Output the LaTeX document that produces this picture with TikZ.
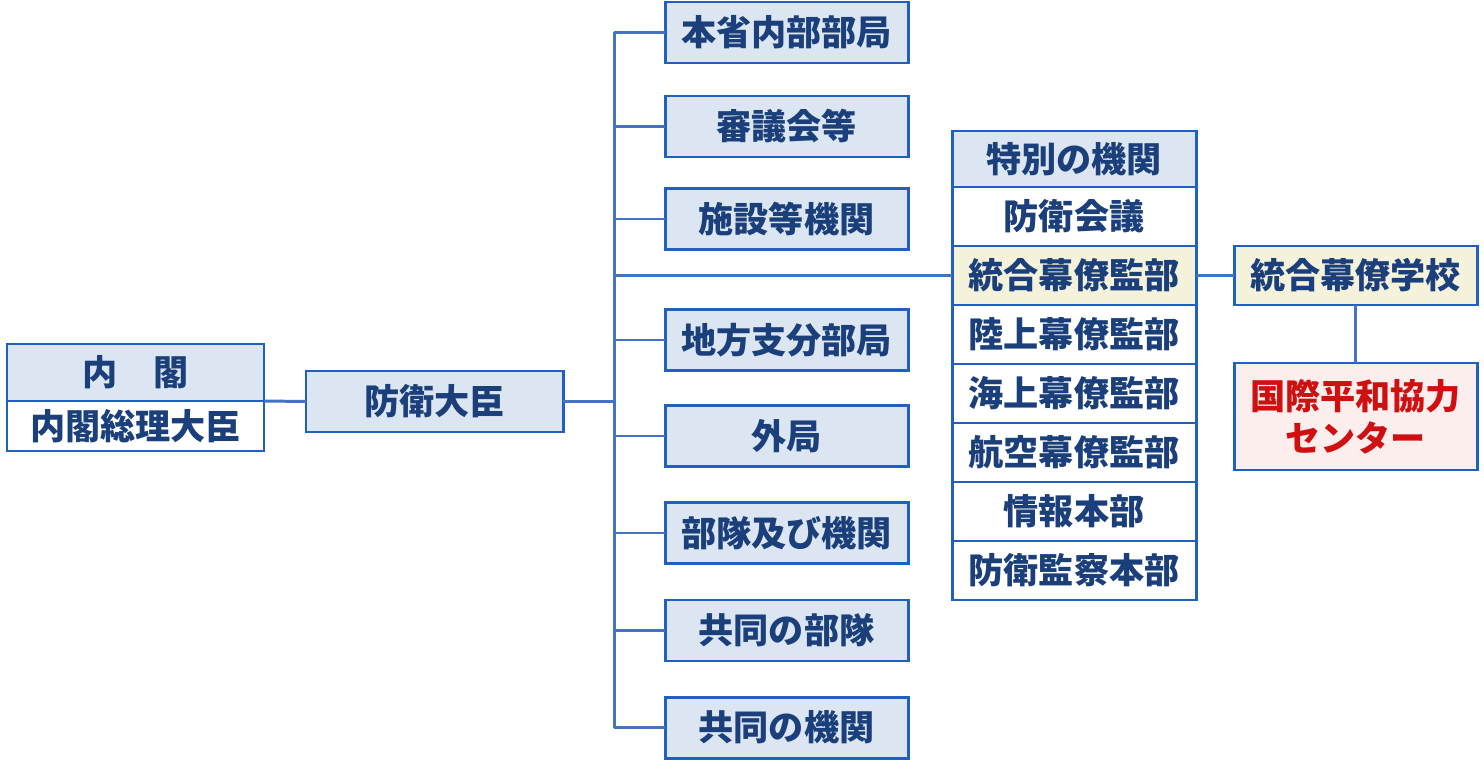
\documentclass[tikz,border=0pt]{standalone}
\usepackage{fontspec}
\setmainfont{Noto Sans CJK JP}
\usepackage{xcolor}
\usepackage{tikz}
\usetikzlibrary{positioning}
\definecolor{boxline}{RGB}{32,96,192}
\definecolor{linkline}{RGB}{68,114,196}
\definecolor{headfill}{RGB}{220,230,242}
\definecolor{creamfill}{RGB}{245,242,220}
\definecolor{pinkfill}{RGB}{253,238,238}
\definecolor{navytext}{RGB}{26,63,122}
\definecolor{redtext}{RGB}{208,16,16}
\tikzset{
  unit/.style={draw=boxline, line width=0.85pt, fill=headfill, minimum width=2.43cm, minimum height=0.61cm, align=center, inner sep=0pt, outer sep=0pt, text=navytext, font=\bfseries\fontsize{10pt}{12pt}\selectfont},
  row/.style={unit, fill=white, minimum width=2.44cm, minimum height=0.59cm},
  head/.style={row, fill=headfill, minimum height=0.56cm},
  joint/.style={row, fill=creamfill},
  pko/.style={unit, fill=pinkfill, text=redtext, minimum height=1.07cm},
  link/.style={draw=linkline, line width=0.85pt}
}
\begin{document}
\begin{tikzpicture}[x=1cm,y=1cm]
  \useasboundingbox (0,0) rectangle (14.84,-7.71);

  % cabinet and minister
  \node[unit, minimum width=2.57cm, minimum height=0.57cm] (cabinet) at (1.355,-3.725) {内\hspace{1em}閣};
  \node[unit, fill=white, minimum width=2.57cm, minimum height=0.50cm, below=0pt of cabinet] (premier) {内閣総理大臣};
  \node[unit, minimum width=2.57cm] (minister) at (4.345,-4.015) {防衛大臣};
  \coordinate (trunk) at (6.14,-4.015);

  % organisations under the minister
  \node[unit] (honsho) at (7.865,-0.325) {本省内部部局};
  \node[unit] (shingi) at (7.865,-1.265) {審議会等};
  \node[unit] (shisetsu) at (7.865,-2.19) {施設等機関};
  \node[unit] (chiho) at (7.865,-3.40) {地方支分部局};
  \node[unit] (gaikyoku) at (7.865,-4.36) {外局};
  \node[unit] (butai) at (7.865,-5.33) {部隊及び機関};
  \node[unit] (kyobutai) at (7.865,-6.305) {共同の部隊};
  \node[unit] (kyokikan) at (7.865,-7.275) {共同の機関};

  % special organs column
  \node[head] (tokubetsu) at (10.74,-1.59) {特別の機関};
  \node[row, below=0pt of tokubetsu] (kaigi) {防衛会議};
  \node[joint, below=0pt of kaigi] (tobaku) {統合幕僚監部};
  \node[row, below=0pt of tobaku] (rikubaku) {陸上幕僚監部};
  \node[row, below=0pt of rikubaku] (kaibaku) {海上幕僚監部};
  \node[row, below=0pt of kaibaku] (kubaku) {航空幕僚監部};
  \node[row, below=0pt of kubaku] (johon) {情報本部};
  \node[row, below=0pt of johon] (kansatsu) {防衛監察本部};

  \node[joint, minimum width=2.43cm] (school) at (13.555,-2.755) {統合幕僚学校};
  \node[pko] (center) at (13.555,-4.165) {国際平和協力\\センター};

  % connectors
  \draw[link] (premier.north east) -- (minister.west);
  \draw[link] (minister.east) -- (trunk);
  \draw[link] (honsho.west -| trunk) -- (kyokikan.west -| trunk);
  \foreach \n in {honsho,shingi,shisetsu,chiho,gaikyoku,butai,kyobutai,kyokikan}
    \draw[link] (\n.west -| trunk) -- (\n.west);
  \draw[link] (tobaku.west -| trunk) -- (tobaku.west);
  \draw[link] (tobaku.east) -- (school.west);
  \draw[link] (school.south) -- (center.north);
\end{tikzpicture}
\end{document}
